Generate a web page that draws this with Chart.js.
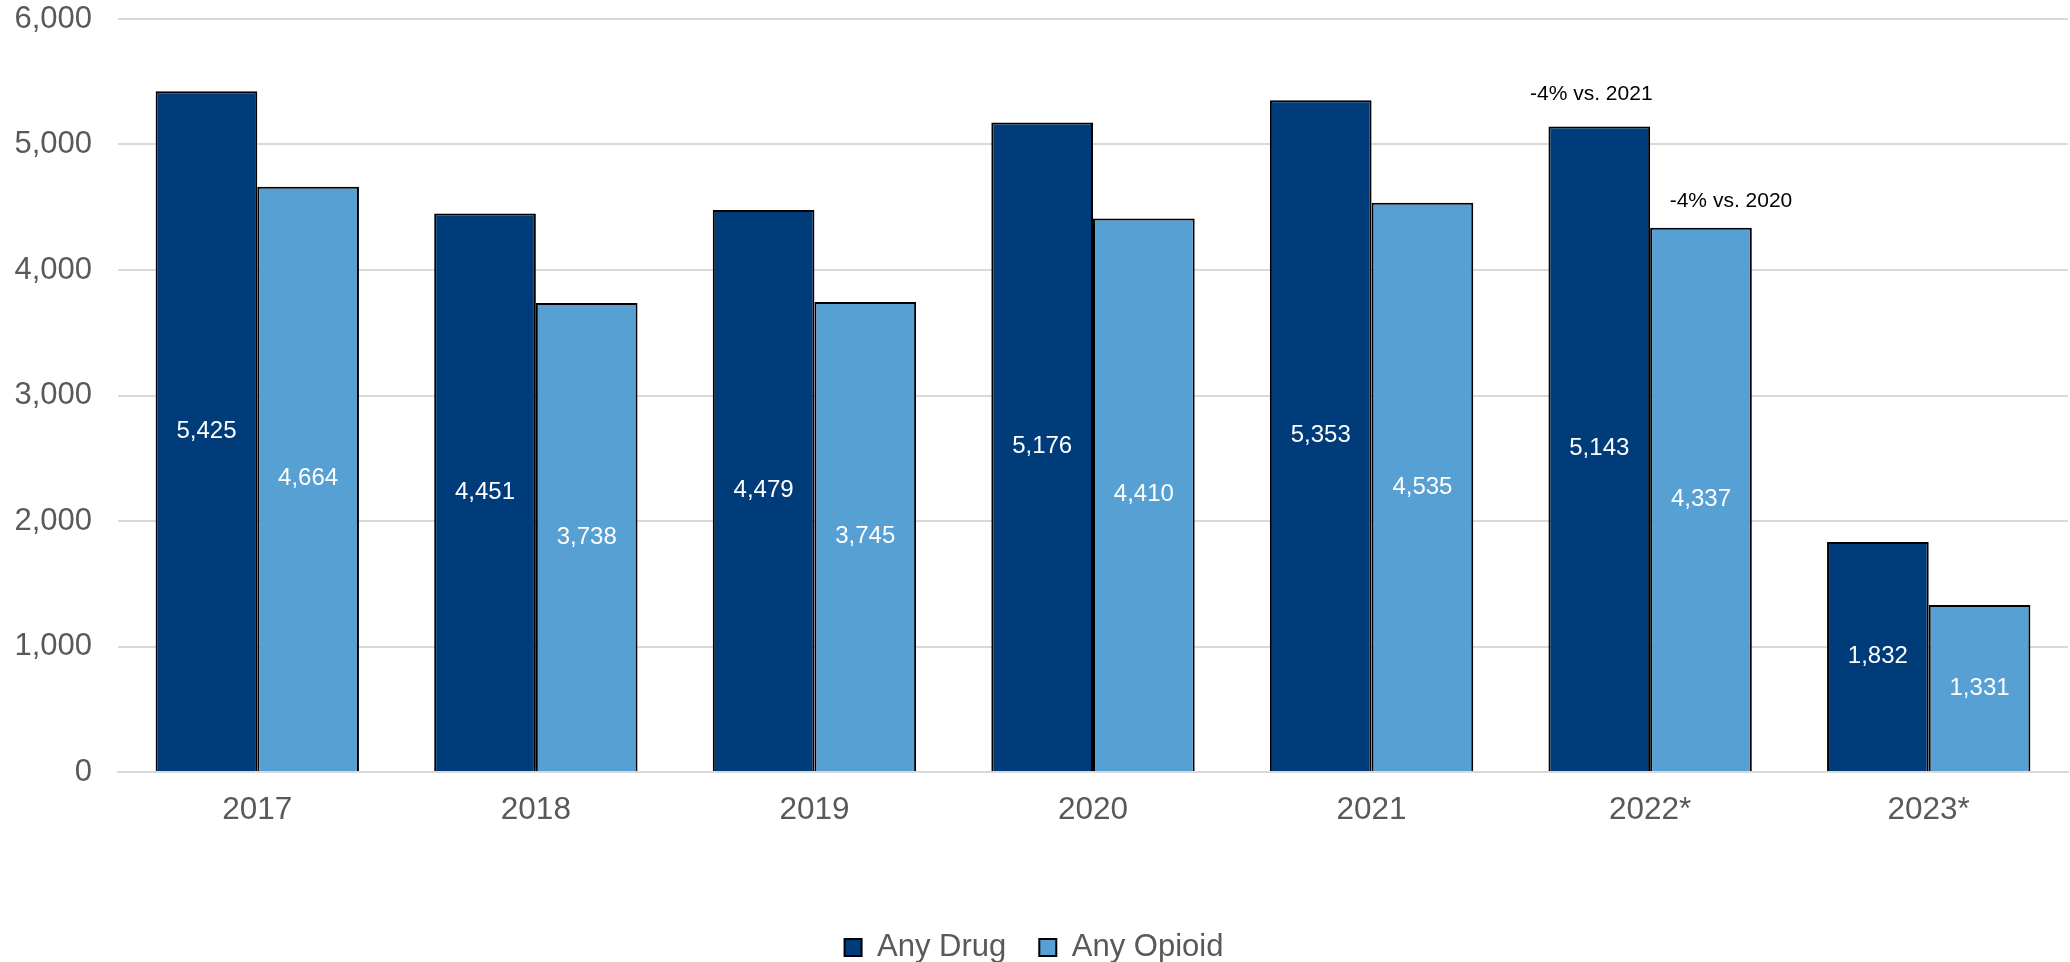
<!DOCTYPE html>
<html>
<head>
<meta charset="utf-8">
<script src="https://cdn.jsdelivr.net/npm/chart.js@4/dist/chart.umd.min.js"></script>
<style>
  html, body { margin: 0; padding: 0; background: #fff; }
  #wrap { width: 2070px; height: 962px; }
</style>
</head>
<body>
<div id="wrap"><canvas id="chart"></canvas></div>
<script>
const years = ['2017', '2018', '2019', '2020', '2021', '2022*', '2023*'];
const anyDrug = [5425, 4451, 4479, 5176, 5353, 5143, 1832];
const anyOpioid = [4664, 3738, 3745, 4410, 4535, 4337, 1331];
// notes written above a bar: [dataset index, category index, text]
const notes = [
  [0, 5, '-4% vs. 2021'],
  [1, 5, '-4% vs. 2020']
];

const fontFam = '"Liberation Sans", Arial, sans-serif';

// white values in the middle of each bar, plus the two notes
const barText = {
  id: 'barText',
  afterDatasetsDraw(chart) {
    const ctx = chart.ctx;
    ctx.save();
    ctx.textAlign = 'center';
    ctx.textBaseline = 'middle';
    ctx.fillStyle = '#ffffff';
    ctx.font = '24px ' + fontFam;
    chart.data.datasets.forEach((ds, di) => {
      chart.getDatasetMeta(di).data.forEach((bar, i) => {
        const v = ds.data[i];
        ctx.fillText(v.toLocaleString('en-US'), bar.x, (bar.y + bar.base) / 2);
      });
    });
    ctx.fillStyle = '#000000';
    ctx.font = '21px ' + fontFam;
    notes.forEach(([di, i, txt]) => {
      const bar = chart.getDatasetMeta(di).data[i];
      const dx = di === 0 ? -8 : 30;
      const dy = di === 0 ? 32 : 27;
      ctx.fillText(txt, bar.x + dx, bar.y - dy);
    });
    ctx.restore();
  }
};

new Chart(document.getElementById('chart'), {
  type: 'bar',
  data: {
    labels: years,
    datasets: [
      {
        label: 'Any Drug',
        data: anyDrug,
        backgroundColor: '#003C7A',
        borderColor: '#000000',
        borderWidth: 2,
        categoryPercentage: 0.73,
        barPercentage: 1.0
      },
      {
        label: 'Any Opioid',
        data: anyOpioid,
        backgroundColor: '#56A0D3',
        borderColor: '#000000',
        borderWidth: 2,
        categoryPercentage: 0.73,
        barPercentage: 1.0
      }
    ]
  },
  options: {
    responsive: true,
    maintainAspectRatio: false,
    animation: false,
    layout: { padding: { top: 19, right: 2, left: 0, bottom: -11 } },
    scales: {
      x: {
        grid: { display: false, drawTicks: false },
        border: { color: '#d9d9d9', width: 2 },
        ticks: { color: '#595959', font: { family: fontFam, size: 31.5 }, padding: 19 },
        afterFit(scale) { scale.height = 127; }
      },
      y: {
        min: 0,
        max: 6000,
        ticks: {
          stepSize: 1000,
          color: '#595959',
          font: { family: fontFam, size: 31 },
          padding: 26,
          callback: v => v.toLocaleString('en-US')
        },
        grid: { color: '#d9d9d9', lineWidth: 2, drawTicks: false },
        border: { display: false },
        afterFit(scale) {
          scale.width = 118;
          scale.paddingTop = 0;
          scale.paddingBottom = 0;
        }
      }
    },
    plugins: {
      legend: {
        position: 'bottom',
        labels: {
          color: '#595959',
          font: { family: fontFam, size: 31 },
          boxWidth: 17,
          boxHeight: 17,
          padding: 33
        }
      },
      tooltip: { enabled: false }
    }
  },
  plugins: [barText]
});
</script>
</body>
</html>
